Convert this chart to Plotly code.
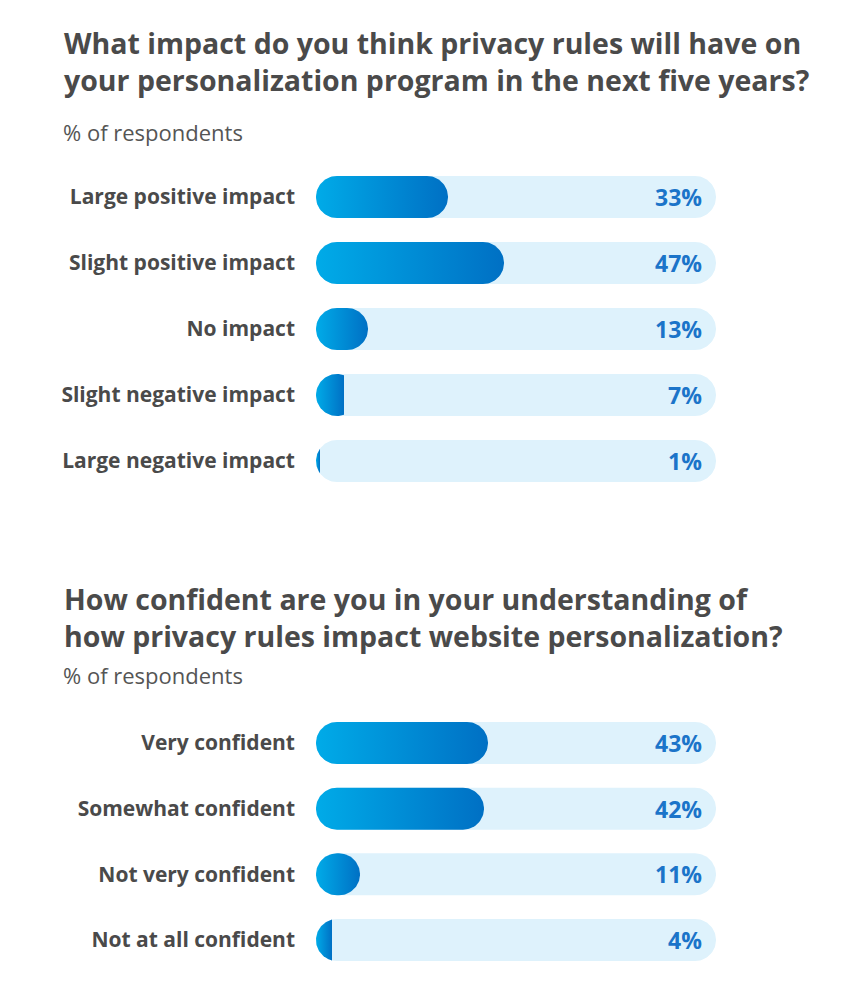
import numpy as np
import plotly.graph_objects as go

# ---------------- data ----------------
q1_title_lines = ["What impact do you think privacy rules will have on",
                  "your personalization program in the next five years?"]
q1_categories = ["Large positive impact", "Slight positive impact", "No impact",
                 "Slight negative impact", "Large negative impact"]
q1_values = [33, 47, 13, 7, 1]

q2_title_lines = ["How confident are you in your understanding of",
                  "how privacy rules impact website personalization?"]
q2_categories = ["Very confident", "Somewhat confident", "Not very confident",
                 "Not at all confident"]
q2_values = [43, 42, 11, 4]

subtitle = "% of respondents"

# ---------------- layout geometry ----------------
OFF = 8  # page body margin
W, H = 842 - 2 * OFF, 997 - 2 * OFF
TRACK_L, TRACK_R = 316 - OFF, 716 - OFF
PX_PER_UNIT_X = (TRACK_R - TRACK_L) / 100.0
R = 21  # corner radius / half height in px

FONT = "Open Sans"
TITLE_COLOR = "#4a4a4a"
LABEL_COLOR = "#4a4a4a"
VALUE_COLOR = "#1b74c9"
TRACK_COLOR = "#def2fc"
GRAD = [[0, "#00abe8"], [1, "#0070c4"]]

panels = [
    dict(cats=q1_categories, vals=q1_values, first_px=197 - OFF, step_px=66,
         xa="x", ya="y", xkey="xaxis", ykey="yaxis"),
    dict(cats=q2_categories, vals=q2_values, first_px=743 - OFF, step_px=65.67,
         xa="x2", ya="y2", xkey="xaxis2", ykey="yaxis2"),
]


def shape_points(w_px, cy, step_px):
    """Outline of a bar of pixel width w_px, clipped to the rounded track."""
    pts = []
    if w_px >= 2 * R:
        th = np.linspace(np.pi / 2, -np.pi / 2, 40)
        pts += [(w_px - R + R * np.cos(t), R * np.sin(t)) for t in th]
        th = np.linspace(-np.pi / 2, -3 * np.pi / 2, 40)
        pts += [(R + R * np.cos(t), R * np.sin(t)) for t in th]
    else:
        if w_px <= 0:
            return [], []
        t0 = np.arccos(np.clip((w_px - R) / R, -1, 1))
        th = np.linspace(t0, 2 * np.pi - t0, 60)
        pts += [(R + R * np.cos(t), R * np.sin(t)) for t in th]
    pts.append(pts[0])
    xs = [p[0] / PX_PER_UNIT_X for p in pts]
    ys = [cy - p[1] / step_px for p in pts]
    return xs, ys


fig = go.Figure()
annotations = []

for p in panels:
    for i, (c, v) in enumerate(zip(p["cats"], p["vals"])):
        tx, ty = shape_points(TRACK_R - TRACK_L, i, p["step_px"])
        fig.add_trace(go.Scatter(x=tx, y=ty, mode="lines", fill="toself",
                                 fillcolor=TRACK_COLOR, line=dict(width=0),
                                 xaxis=p["xa"], yaxis=p["ya"], hoverinfo="skip",
                                 showlegend=False))
        bx, by = shape_points(v * PX_PER_UNIT_X, i, p["step_px"])
        fig.add_trace(go.Scatter(x=bx, y=by, mode="lines", fill="toself",
                                 fillgradient=dict(type="horizontal", colorscale=GRAD),
                                 line=dict(width=0),
                                 xaxis=p["xa"], yaxis=p["ya"], hoverinfo="skip",
                                 showlegend=False, name=c))
        annotations.append(dict(x=100, y=i, xref=p["xa"], yref=p["ya"],
                                text=f"{v}%", showarrow=False, xanchor="right",
                                xshift=-12,
                                font=dict(family=FONT, size=23, color=VALUE_COLOR,
                                          weight="bold")))

layout_axes = {}
for p in panels:
    n = len(p["cats"])
    top_px = p["first_px"] - p["step_px"] / 2
    bot_px = p["first_px"] + (n - 0.5) * p["step_px"]
    layout_axes[p["xkey"]] = dict(domain=[TRACK_L / W, TRACK_R / W], range=[0, 100],
                                  showgrid=False, zeroline=False, showticklabels=False,
                                  showline=False, fixedrange=True, anchor=p["ya"])
    layout_axes[p["ykey"]] = dict(domain=[1 - bot_px / H, 1 - top_px / H],
                                  range=[n - 0.5, -0.5], tickvals=list(range(n)),
                                  ticktext=p["cats"], showgrid=False, zeroline=False,
                                  showline=False, ticks="", ticklabelstandoff=20,
                                  tickfont=dict(family=FONT, size=21, color=LABEL_COLOR,
                                                weight="bold"),
                                  fixedrange=True, anchor=p["xa"])

for lines, ty, sy in [(q1_title_lines, 61.5, 132), (q2_title_lines, 617, 675)]:
    annotations.append(dict(x=(62 - OFF) / W, y=1 - (ty - OFF) / H, xref="paper",
                            yref="paper", text="<br>".join(lines), showarrow=False,
                            xanchor="left", yanchor="middle", align="left",
                            font=dict(family=FONT, size=28.5, color=TITLE_COLOR,
                                      weight="bold")))
    annotations.append(dict(x=(61 - OFF) / W, y=1 - (sy - OFF) / H, xref="paper",
                            yref="paper", text=subtitle, showarrow=False,
                            xanchor="left", yanchor="middle",
                            font=dict(family=FONT, size=22, color="#555555")))

fig.update_layout(width=W, height=H, margin=dict(l=0, r=0, t=0, b=0),
                  paper_bgcolor="white", plot_bgcolor="white",
                  annotations=annotations, **layout_axes)

fig.write_html("out.html")
